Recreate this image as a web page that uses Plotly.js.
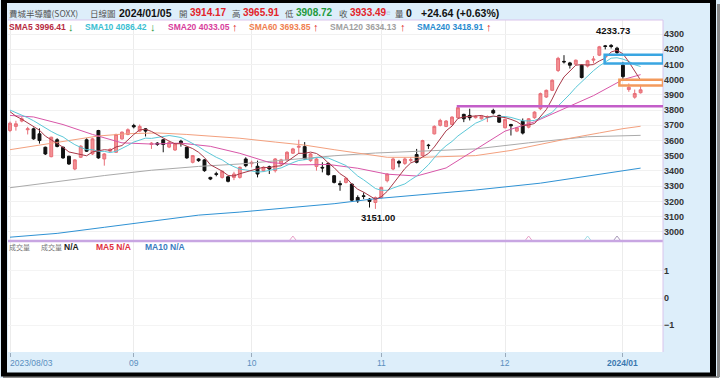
<!DOCTYPE html>
<html><head><meta charset="utf-8">
<script src="https://cdn.plot.ly/plotly-3.0.1.min.js"></script>
<style>html,body{margin:0;padding:0;background:#fff;}#chart{width:720px;height:378px;}</style>
</head><body><div id="chart"></div>
<script>
// ---- data ----
const openP  = [3666,3693,3728,3671,3677,3644,3556,3494,3605,3556,3497,3413,3490,3605,3512,3666,3479,3530,3523,3611,3640,3699,3662,3677,3574,3583,3605,3557,3538,3596,3556,3457,3479,3473,3358,3382,3358,3362,3358,3358,3479,3448,3431,3402,3428,3402,3446,3473,3517,3556,3560,3468,3430,3424,3450,3369,3317,3325,3314,3226,3237,3215,3193,3226,3336,3413,3462,3450,3470,3508,3501,3570,3644,3700,3693,3706,3750,3772,3765,3750,3743,3752,3798,3765,3684,3705,3662,3726,3688,3750,3809,3886,3930,4060,4120,4110,4102,4095,4089,4128,4161,4222,4225,4207,4095,3935,3885,3914.17];
const highP  = [3725,3730,3754,3690,3685,3680,3560,3625,3615,3560,3500,3478,3570,3615,3618,3670,3518,3548,3645,3660,3680,3710,3705,3682,3590,3590,3612,3600,3585,3605,3560,3505,3485,3478,3362,3395,3402,3366,3395,3430,3490,3468,3468,3430,3435,3485,3480,3530,3552,3605,3590,3518,3485,3457,3455,3373,3336,3358,3318,3240,3259,3222,3232,3298,3385,3490,3473,3490,3490,3545,3605,3578,3700,3743,3735,3760,3822,3776,3809,3765,3765,3765,3809,3770,3745,3710,3690,3745,3748,3792,3915,3935,4002,4150,4161,4117,4132,4100,4130,4155,4222,4228,4233.73,4216,4117,3975,3935,3965.91];
const lowP   = [3655,3665,3720,3640,3605,3580,3505,3490,3555,3480,3440,3405,3485,3525,3505,3480,3435,3525,3518,3605,3635,3680,3655,3627,3545,3565,3523,3550,3532,3560,3480,3450,3460,3395,3340,3365,3350,3325,3340,3350,3425,3424,3358,3395,3380,3390,3440,3468,3512,3512,3475,3460,3402,3391,3370,3318,3270,3318,3200,3190,3215,3160,3151,3220,3325,3405,3424,3440,3457,3450,3495,3545,3640,3693,3688,3700,3745,3721,3732,3745,3738,3721,3772,3716,3680,3633,3655,3640,3680,3743,3800,3880,3925,4050,4106,4073,4095,4008,4080,4106,4155,4199,4205,4161,4005,3920,3875,3908.72];
const closeP = [3714,3710,3743,3677,3611,3600,3512,3622,3561,3486,3446,3473,3563,3530,3611,3486,3512,3543,3640,3655,3671,3690,3693,3662,3583,3575,3574,3587,3578,3583,3486,3501,3468,3402,3347,3378,3398,3332,3380,3424,3435,3457,3380,3424,3413,3479,3473,3523,3545,3562,3479,3512,3479,3420,3376,3325,3310,3352,3208,3204,3233,3200,3226,3292,3380,3479,3452,3479,3474,3457,3600,3567,3693,3732,3728,3754,3816,3743,3750,3759,3759,3756,3781,3721,3739,3697,3684,3649,3743,3787,3908,3930,3996,4140,4117,4095,4128,4014,4124,4135,4216,4218,4218,4178,4020,3950,3908.85,3933.49];

// moving averages (day index -> value)
const sma5Val = [3790,3760,3740,3715,3691,3668,3629,3604,3581,3556,3525,3518,3506,3500,3525,3533,3540,3536,3558,3567,3604,3640,3670,3674,3660,3641,3617,3596,3579,3579,3562,3547,3523,3488,3441,3419,3399,3371,3367,3382,3394,3406,3415,3424,3422,3431,3434,3462,3487,3516,3516,3524,3515,3490,3453,3422,3382,3357,3314,3280,3261,3239,3214,3231,3266,3315,3366,3416,3453,3468,3492,3515,3558,3610,3664,3695,3745,3755,3758,3764,3765,3753,3761,3755,3751,3739,3724,3698,3702,3712,3754,3803,3873,3952,4018,4056,4095,4099,4096,4099,4123,4141,4182,4193,4170,4117,4055,3996.41];
const sma10Val = [3800,3785,3770,3750,3730,3705,3680,3660,3640,3624,3597,3573,3555,3540,3540,3529,3529,3521,3529,3546,3568,3590,3603,3616,3614,3622,3629,3633,3627,3620,3601,3582,3560,3534,3510,3490,3473,3447,3428,3412,3407,3402,3393,3396,3402,3412,3420,3439,3455,3469,3474,3479,3489,3489,3485,3469,3453,3436,3402,3367,3342,3311,3285,3273,3273,3288,3303,3315,3342,3367,3404,3441,3487,3531,3566,3594,3630,3656,3684,3714,3730,3749,3758,3757,3758,3752,3739,3730,3729,3732,3747,3764,3785,3827,3865,3905,3949,3986,4024,4059,4090,4118,4141,4144,4135,4120,4098,4086.42];
const sma20Day = [0,4,9,14,19,24,29,34,39,44,49,54,59,64,69,74,79,84,89,94,99,104,107];
const sma20Val = [3765,3755,3705,3640,3585,3577,3583,3562,3516,3456,3440,3443,3418,3379,3367,3420,3541,3662,3723,3811,3895,4000,4033.05];
const sma60Day = [0,5,10,15,20,25,30,35,39,45,50,55,60,64,70,75,79,85,90,95,100,104,107];
const sma60Val = [3540,3570,3600,3630,3645,3650,3640,3625,3615,3590,3570,3540,3510,3490,3490,3495,3501,3535,3575,3615,3650,3678,3693.85];
const sma120Day = [0,8,16,24,32,39,47,55,62,70,79,88,98,107];
const sma120Val = [3290,3330,3370,3405,3430,3446,3475,3500,3518,3530,3545,3585,3625,3634.13];
const sma240Day = [0,8,16,24,32,39,45,55,62,70,79,90,100,107];
const sma240Val = [2965,2990,3030,3070,3110,3130,3150,3185,3218,3245,3275,3320,3380,3418.91];

const tickDays   = [0,21,41,63,84,104];
const tickLabels = ['2023/08/03','09','10','11','12','2024/01'];
const priceTicks = [3000,3100,3200,3300,3400,3500,3600,3700,3800,3900,4000,4100,4200,4300];
const volTicks   = [-1,0,1];
const markDays   = [48,88,98,103];
const markColors = ['#e8a0c8','#e8a0c8','#9fdde6','#a898b8'];
const hiLabel = '4233.73', hiDay = 102.3, hiVal = 4233.73;
const loLabel = '3151.00', loDay = 62.4, loVal = 3151;
const supportLevel = 3825, supportFrom = 75.8;
const blueBox = [100.9, 4107, 4163];
const orangeBox = [103.4, 3961, 4000];
const maNames  = ['SMA5','SMA10','SMA20','SMA60','SMA120','SMA240'];
const maLast   = ['3996.41','4086.42','4033.05','3693.85','3634.13','3418.91'];
const maUp     = [false,false,true,true,true,true];

// ---- helpers ----
const L = 8, R = 663, T = 20, B = 352;
const px = v => (v - L) / (R - L);
const py = v => (B - v) / (B - T);
const days = openP.map((_, i) => i);
function ann(text, x, y, font, anchor) {
  return {text, xref:'paper', yref:'paper', x:px(x), y:py(y), xanchor:anchor||'left', yanchor:'middle',
          showarrow:false, font:Object.assign({family:'Liberation Sans, Arial, sans-serif', size:10, color:'#222'}, font)};
}
const cjk = 'Noto Sans CJK TC, sans-serif';
const B9 = c => ({size:8.5, color:c, weight:'bold'});

function maLine(x, y, color) {
  return {type:'scatter', mode:'lines', x, y, xaxis:'x', yaxis:'y', line:{color, width:1}, hoverinfo:'skip', showlegend:false};
}
const maColors = ['#a83848','#5cc8d8','#d856a8','#f3a07e','#aaaaaa','#2f92d4'];
const maText   = ['#b82a40','#3cc0d2','#d8409c','#f08050','#a0a0a0','#2a8cd0'];
const maX      = [7,83,166,247,328,415];
const arrowX   = [66,148,230,311,398,484];

const traces = [
  maLine(sma240Day, sma240Val, maColors[5]),
  maLine(sma120Day, sma120Val, maColors[4]),
  maLine(sma60Day, sma60Val, maColors[3]),
  maLine(sma20Day, sma20Val, maColors[2]),
  maLine(days, sma10Val, maColors[1]),
  maLine(days, sma5Val, maColors[0]),
  {type:'candlestick', x:days, open:openP, high:highP, low:lowP, close:closeP, xaxis:'x', yaxis:'y',
   increasing:{line:{color:'#e86f78', width:1}, fillcolor:'#f39093'},
   decreasing:{line:{color:'#111111', width:1}, fillcolor:'#111111'},
   whiskerwidth:0, showlegend:false, hoverinfo:'skip'},
  {type:'scatter', mode:'markers', x:markDays, y:markDays.map(() => 2953), xaxis:'x', yaxis:'y',
   marker:{symbol:'triangle-up-open', size:6, color:markColors, line:{width:1, color:markColors}}, hoverinfo:'skip', showlegend:false},
  {type:'scatter', mode:'markers', x:[0], y:[0], xaxis:'x', yaxis:'y2', marker:{opacity:0}, hoverinfo:'skip', showlegend:false}
];

const annotations = [
  // header
  ann('費城半導體(SOXX)', 7, 13, {family:cjk, size:8.5, color:'#555'}),
  ann('日線圖', 88, 13, {family:cjk, size:8.5, color:'#555'}),
  ann('2024/01/05', 117, 13, {size:10.5, color:'#111', weight:'bold'}),
  ann('開', 177, 13, {family:cjk, size:8.5, color:'#555'}),
  ann('3914.17', 188, 13, {size:10, color:'#e3242b', weight:'bold'}),
  ann('高', 230, 13, {family:cjk, size:8.5, color:'#555'}),
  ann('3965.91', 241, 13, {size:10, color:'#e3242b', weight:'bold'}),
  ann('低', 283, 13, {family:cjk, size:8.5, color:'#555'}),
  ann('3908.72', 294, 13, {size:10, color:'#1e9a3c', weight:'bold'}),
  ann('收', 337, 13, {family:cjk, size:8.5, color:'#555'}),
  ann('3933.49', 348, 13, {size:10, color:'#e3242b', weight:'bold'}),
  ann('e', 384, 13, {size:8, color:'#b8cce0'}),
  ann('量', 393, 13, {family:cjk, size:8.5, color:'#555'}),
  ann('0', 404, 13, {size:10.5, color:'#111', weight:'bold'}),
  ann('+24.64 (+0.63%)', 419, 13, {size:10.5, color:'#111', weight:'bold'}),
  // volume header
  ann('成交量', 7, 247, {family:cjk, size:7, color:'#777'}),
  ann('成交量', 39, 247, {family:cjk, size:7, color:'#777'}),
  ann('N/A', 62, 247, B9('#222')),
  ann('MA5 N/A', 94, 247, B9('#e03040')),
  ann('MA10 N/A', 143, 247, B9('#3a7cc0')),
  // hi / lo labels
  {text:hiLabel, x:hiDay, y:hiVal, xref:'x', yref:'y', yshift:6, yanchor:'bottom', xanchor:'center', showarrow:false,
   font:{family:'Liberation Sans, Arial', size:9.5, color:'#111', weight:'bold'}},
  {text:loLabel, x:loDay, y:loVal, xref:'x', yref:'y', yshift:-1, yanchor:'top', xanchor:'center', showarrow:false,
   font:{family:'Liberation Sans, Arial', size:9.5, color:'#111', weight:'bold'}}
];
// MA legend row
maNames.forEach((n, k) => {
  annotations.push(ann(n + ' ' + maLast[k], maX[k], 27, B9(maText[k])));
  annotations.push(ann(maUp[k] ? '↑' : '↓', arrowX[k], 27,
    {size:11, color: maUp[k] ? '#e02020' : '#2a9a40', weight:'bold'}));
});
// x tick labels
tickDays.forEach((d, k) => {
  const xpix = L + (d + 0.34) / 111.14 * (R - L);
  annotations.push(ann(tickLabels[k], k === 0 ? 8 : xpix, 363,
    {size:8.5, color: k === tickLabels.length - 1 ? '#3a78b0' : '#5a8fbf', weight: k === tickLabels.length - 1 ? 'bold' : 'normal'}, k === 0 ? 'left' : 'center'));
});

const shapes = [
  // price panel borders
  {type:'line', xref:'paper', yref:'paper', x0:0, x1:1, y0:1, y1:1, line:{color:'#d9c4ec', width:1}},
  {type:'line', xref:'paper', yref:'paper', x0:0, x1:1, y0:py(241), y1:py(241), line:{color:'#c8a6e2', width:2.5}},
  {type:'line', xref:'paper', yref:'paper', x0:1, x1:1, y0:0, y1:1, line:{color:'#d9c4ec', width:1}},
  // support line and boxes
  {type:'line', xref:'x', yref:'y', x0:supportFrom, x1:110.8, y0:supportLevel, y1:supportLevel, line:{color:'#c35ec9', width:2.5}},
  {type:'rect', xref:'x', yref:'y', x0:blueBox[0], x1:110.8, y0:blueBox[1], y1:blueBox[2], line:{color:'#3aa6e2', width:2.5}},
  {type:'rect', xref:'x', yref:'y', x0:orangeBox[0], x1:110.8, y0:orangeBox[1], y1:orangeBox[2], line:{color:'#f39a5c', width:2.5}},
  // outer frame (black) with a grey shadow on the right / bottom
  {type:'line', xref:'paper', yref:'paper', x0:px(718.5), x1:px(718.5), y0:py(377), y1:py(4), line:{color:'#8a8a8a', width:3}},
  {type:'line', xref:'paper', yref:'paper', x0:px(3), x1:px(719), y0:py(377), y1:py(377), line:{color:'#8a8a8a', width:2}},
  {type:'line', xref:'paper', yref:'paper', x0:px(4), x1:px(4), y0:py(376), y1:py(0), line:{color:'#000', width:6}},
  {type:'line', xref:'paper', yref:'paper', x0:px(713), x1:px(713), y0:py(376), y1:py(0), line:{color:'#000', width:6}},
  {type:'line', xref:'paper', yref:'paper', x0:px(1), x1:px(716), y0:py(1.5), y1:py(1.5), line:{color:'#000', width:3}},
  {type:'line', xref:'paper', yref:'paper', x0:px(1), x1:px(716), y0:py(374.5), y1:py(374.5), line:{color:'#000', width:4}}
];

const layout = {
  width:720, height:378, margin:{l:L, r:720-R, t:T, b:378-B},
  paper_bgcolor:'#ddeefa', plot_bgcolor:'#ffffff', showlegend:false,
  xaxis:{range:[-0.34,110.8], tickvals:tickDays, ticktext:tickLabels, showticklabels:false,
         ticks:'outside', ticklen:4, tickcolor:'#9ab', showgrid:true, gridcolor:'#ececec', gridwidth:1,
         zeroline:false, showline:false, rangeslider:{visible:false}, anchor:'y2', fixedrange:true},
  yaxis:{domain:[py(241),1], range:[2940,4392], side:'right', tickvals:priceTicks,
         tickfont:{family:'Liberation Sans, Arial', size:9, color:'#333', weight:'bold'},
         showgrid:true, gridcolor:'#f1f1f1', zeroline:false, ticks:'', fixedrange:true},
  yaxis2:{domain:[0,py(241)], range:[-1.98,2.09], side:'right', tickvals:volTicks,
         tickfont:{family:'Liberation Sans, Arial', size:9, color:'#333', weight:'bold'},
         showgrid:true, gridcolor:'#f4f4f4', zeroline:false, ticks:'', fixedrange:true},
  annotations, shapes
};
Plotly.newPlot('chart', traces, layout, {staticPlot:true, displayModeBar:false});
</script></body></html>
